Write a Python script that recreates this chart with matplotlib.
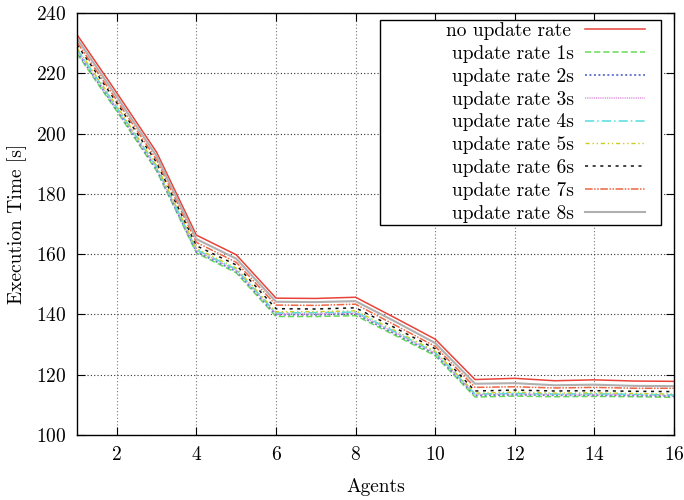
import numpy as np
import matplotlib
matplotlib.use('Agg')
import matplotlib.pyplot as plt
from matplotlib.patches import Rectangle

plt.rcParams['font.family'] = 'cmr10'
plt.rcParams['mathtext.fontset'] = 'cm'
plt.rcParams['axes.formatter.use_mathtext'] = True
plt.rcParams['font.size'] = 14

agents = np.arange(1, 17)

no_rate = [232.8, 213.5, 193.8, 166.3, 159.8, 145.4, 145.3, 145.7, 138.8, 131.8, 118.4, 118.8, 118.0, 118.3, 117.9, 117.8]
rate_8s = [231.5, 212.2, 192.5, 165.0, 158.5, 144.2, 144.1, 144.4, 137.6, 130.5, 117.0, 117.2, 116.5, 116.7, 116.3, 116.2]
rate_7s = [230.3, 211.0, 191.3, 163.9, 157.3, 143.1, 143.0, 143.4, 136.4, 129.4, 115.8, 116.0, 115.6, 115.8, 115.5, 115.5]
rate_6s = [229.5, 210.2, 190.4, 162.8, 156.4, 141.9, 141.8, 142.2, 135.5, 128.6, 114.6, 114.9, 114.6, 114.7, 114.5, 114.4]
rate_5s = [228.4, 209.1, 189.4, 161.9, 155.4, 140.9, 140.9, 141.2, 134.6, 127.8, 113.9, 114.2, 113.9, 114.0, 113.8, 113.6]
rate_4s = [228.0, 208.7, 189.0, 161.5, 155.0, 140.5, 140.6, 140.8, 134.2, 127.4, 113.6, 113.8, 113.6, 113.7, 113.5, 113.3]
rate_3s = [227.5, 208.3, 188.5, 161.2, 154.7, 140.2, 140.2, 140.5, 133.9, 127.1, 113.4, 113.6, 113.4, 113.4, 113.3, 113.1]
rate_2s = [227.1, 207.9, 188.1, 160.8, 154.3, 139.9, 139.9, 140.2, 133.5, 126.8, 113.1, 113.4, 113.2, 113.2, 113.1, 112.9]
rate_1s = [226.5, 207.4, 187.6, 160.4, 153.8, 139.3, 139.3, 139.6, 133.0, 126.3, 112.6, 112.9, 112.7, 112.8, 112.7, 112.5]

series = [
    ('no update rate', no_rate, '#e8433a', (None, None), 1.1),
    ('update rate 1s', rate_1s, '#66dd55', (4, 2), 1.1),
    ('update rate 2s', rate_2s, '#6677cc', (1, 1.3), 1.4),
    ('update rate 3s', rate_3s, '#dd88dd', (0.6, 0.6), 1.1),
    ('update rate 4s', rate_4s, '#55dddd', (6, 2, 1, 2), 1.1),
    ('update rate 5s', rate_5s, '#cccc22', (3, 2, 1, 2, 1, 2), 1.0),
    ('update rate 6s', rate_6s, '#111111', (2, 3), 1.1),
    ('update rate 7s', rate_7s, '#ee6644', (5, 1, 1, 1, 1, 1), 1.1),
    ('update rate 8s', rate_8s, '#b0b0b0', (None, None), 1.5),
]

fig = plt.figure(figsize=(6.84, 5.0), dpi=100)
ax = fig.add_axes([0.1126, 0.13, 0.8728, 0.844])

for label, vals, col, dash, lw in series:
    ln, = ax.plot(agents, vals, color=col, lw=lw, label=label)
    if dash[0] is not None:
        ln.set_dashes(dash)

ax.set_xlim(1, 16)
ax.set_ylim(100, 240)
ax.set_xticks(np.arange(2, 17, 2))
ax.set_yticks(np.arange(100, 241, 20))
ax.grid(True, axis='y', color='#333333', linestyle=(0, (1, 2)), linewidth=0.8)
ax.grid(True, axis='x', color='#777777', linestyle=(0, (1, 2)), linewidth=0.8)
ax.tick_params(direction='in', length=6, width=0.8, top=True, right=True, pad=8)
for s in ax.spines.values():
    s.set_linewidth(1.0)

ax.set_xlabel('Agents', labelpad=10)
ax.set_ylabel('Execution Time [s]', labelpad=6)

# legend box drawn separately (fixed width like the original)
box = Rectangle((0.5075, 0.4976), 0.4705, 0.4854, transform=ax.transAxes,
                facecolor='white', edgecolor='black', lw=1.0, zorder=4)
ax.add_patch(box)

leg = ax.legend(loc='upper right', bbox_to_anchor=(0.955, 0.983), borderaxespad=0,
                markerfirst=False, handlelength=3.1, labelspacing=0.25,
                frameon=False, borderpad=0.1, handletextpad=0.7)
leg.set_zorder(5)

# right-align the labels against the handles
fig.canvas.draw()
renderer = fig.canvas.get_renderer()
widths = [t.get_window_extent(renderer).width for t in leg.get_texts()]
maxw = max(widths)
for t, w in zip(leg.get_texts(), widths):
    t.set_position((maxw - w, 0))

fig.savefig('out.png', dpi=100)
